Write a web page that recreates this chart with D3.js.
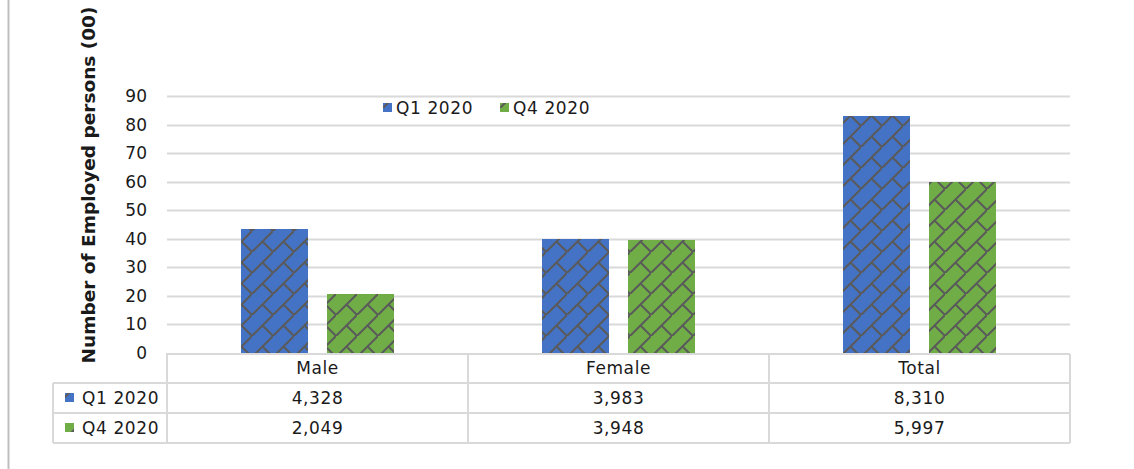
<!DOCTYPE html>
<html>
<head>
<meta charset="utf-8">
<script src="https://cdn.jsdelivr.net/npm/d3@7"></script>
<style>
  body { margin: 0; background: #fff; }
  text { font-family: "DejaVu Sans", sans-serif; fill: #1a1a1a; }
</style>
</head>
<body>
<div id="chart-area"></div>
<script>
// data
const categories = ['Male', 'Female', 'Total'];
const seriesNames = ['Q1 2020', 'Q4 2020'];
const q1Values = [4328, 3983, 8310];
const q4Values = [2049, 3948, 5997];
const yTicks = [0, 10, 20, 30, 40, 50, 60, 70, 80, 90];

const W = 1134, H = 469;
const plot = { left: 167, right: 1070, top: 96, bottom: 353 };
const colors = ['#4472c4', '#70ad47'];
const gridColor = '#d9d9d9';
const fontSize = '17px';
const spacing = '0.6px';

const svg = d3.select('#chart-area').append('svg')
  .attr('width', W)
  .attr('height', H);

// patterns (diagonal brick)
const defs = svg.append('defs');
const T = 21;
colors.forEach((c, i) => {
  const p = defs.append('pattern')
    .attr('id', 'brick' + i)
    .attr('patternUnits', 'userSpaceOnUse')
    .attr('width', T)
    .attr('height', T);
  p.append('rect').attr('width', T).attr('height', T).attr('fill', c);
  p.append('path')
    .attr('d', `M-1,${T + 1} L${T + 1},-1 M${T / 2},${T / 2} L${T + 1},${T + 1}`)
    .attr('stroke', '#5a5a5a')
    .attr('stroke-width', 2)
    .attr('fill', 'none');
});

// outer frame line on the left
svg.append('line')
  .attr('x1', 8.5).attr('x2', 8.5)
  .attr('y1', 0).attr('y2', H)
  .attr('stroke', '#bfbfbf')
  .attr('stroke-width', 2);

// scales
const x = d3.scaleBand()
  .domain(categories)
  .range([plot.left, plot.right]);

const x1 = d3.scaleBand()
  .domain(seriesNames)
  .range([0, x.bandwidth()])
  .paddingInner(0.221)
  .paddingOuter(0.86);

const y = d3.scaleLinear()
  .domain([0, 90])
  .range([plot.bottom, plot.top]);

// gridlines
svg.append('g')
  .selectAll('line')
  .data(yTicks.filter(d => d > 0))
  .enter().append('line')
  .attr('x1', plot.left)
  .attr('x2', plot.right)
  .attr('y1', d => Math.round(y(d)) + 0.5)
  .attr('y2', d => Math.round(y(d)) + 0.5)
  .attr('stroke', gridColor)
  .attr('stroke-width', 2);

// y axis labels
const yAxis = svg.append('g')
  .attr('transform', `translate(${plot.left}, 0)`)
  .call(d3.axisLeft(y).tickValues(yTicks).tickSize(0).tickPadding(20));
yAxis.select('.domain').remove();
yAxis.selectAll('text')
  .style('font-family', '"DejaVu Sans", sans-serif')
  .attr('font-size', fontSize)
  .attr('fill', '#1a1a1a');

// y axis title
svg.append('text')
  .attr('transform', 'rotate(-90)')
  .attr('x', -185)
  .attr('y', 95)
  .attr('text-anchor', 'middle')
  .attr('font-size', '18.5px')
  .attr('font-weight', 'bold')
  .text('Number of Employed persons (00)');

// bars
const allSeries = [q1Values, q4Values];
seriesNames.forEach((s, si) => {
  svg.append('g')
    .selectAll('rect')
    .data(categories.map((c, ci) => ({ c, v: allSeries[si][ci] / 100 })))
    .enter().append('rect')
    .attr('x', d => x(d.c) + x1(s))
    .attr('y', d => y(d.v))
    .attr('width', x1.bandwidth())
    .attr('height', d => y(0) - y(d.v))
    .attr('fill', `url(#brick${si})`)
    .attr('shape-rendering', 'crispEdges');
});

// legend
const legend = svg.append('g').attr('transform', 'translate(383, 108)');
seriesNames.forEach((s, i) => {
  const lg = legend.append('g').attr('transform', `translate(${i * 117}, 0)`);
  lg.append('rect')
    .attr('x', 0).attr('y', -5)
    .attr('width', 9).attr('height', 9)
    .attr('fill', `url(#brick${i})`);
  lg.append('text')
    .attr('x', 13)
    .attr('dy', '0.35em')
    .attr('font-size', fontSize)
    .attr('letter-spacing', spacing)
    .text(s);
});

// data table
const rowY = [354, 383, 413, 443];
const tableLeft = 53;
const table = svg.append('g')
  .attr('stroke', gridColor)
  .attr('stroke-width', 2)
  .attr('fill', 'none');

// top line of header row (axis line)
table.append('line')
  .attr('x1', plot.left - 1).attr('x2', plot.right)
  .attr('y1', rowY[0]).attr('y2', rowY[0]);
// row lines
rowY.slice(1).forEach(ry => {
  table.append('line')
    .attr('x1', tableLeft).attr('x2', plot.right)
    .attr('y1', ry).attr('y2', ry);
});
// column lines
const colX = categories.map(c => x(c)).concat([plot.right]);
colX.forEach(cx => {
  table.append('line')
    .attr('x1', cx).attr('x2', cx)
    .attr('y1', rowY[0]).attr('y2', rowY[3]);
});
table.append('line')
  .attr('x1', tableLeft).attr('x2', tableLeft)
  .attr('y1', rowY[1]).attr('y2', rowY[3]);

// category header
svg.append('g')
  .selectAll('text')
  .data(categories)
  .enter().append('text')
  .attr('x', d => x(d) + x.bandwidth() / 2)
  .attr('y', (rowY[0] + rowY[1]) / 2)
  .attr('dy', '0.35em')
  .attr('text-anchor', 'middle')
  .attr('font-size', fontSize)
  .attr('letter-spacing', spacing)
  .text(d => d);

// rows
const fmt = d3.format(',');
seriesNames.forEach((s, si) => {
  const cy = (rowY[si + 1] + rowY[si + 2]) / 2;
  svg.append('rect')
    .attr('x', 65).attr('y', cy - 5)
    .attr('width', 9).attr('height', 9)
    .attr('fill', `url(#brick${si})`);
  svg.append('text')
    .attr('x', 82)
    .attr('y', cy)
    .attr('dy', '0.35em')
    .attr('font-size', fontSize)
    .attr('letter-spacing', spacing)
    .text(s);
  svg.append('g')
    .selectAll('text')
    .data(categories.map((c, ci) => ({ c, v: allSeries[si][ci] })))
    .enter().append('text')
    .attr('x', d => x(d.c) + x.bandwidth() / 2)
    .attr('y', cy)
    .attr('dy', '0.35em')
    .attr('text-anchor', 'middle')
    .attr('font-size', fontSize)
    .attr('letter-spacing', spacing)
    .text(d => fmt(d.v));
});
</script>
</body>
</html>
